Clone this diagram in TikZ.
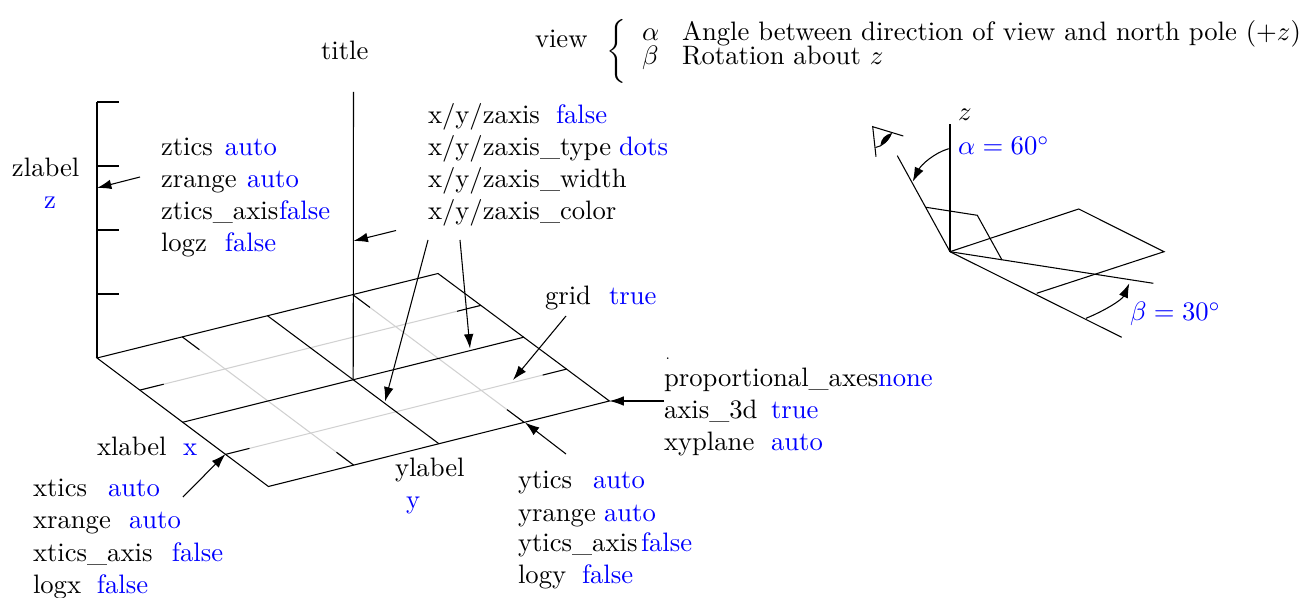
\documentclass[tikz,border=0pt]{standalone}
\usetikzlibrary{arrows.meta,calc}
\newlength{\pxu}\setlength{\pxu}{0.375pt}
\newcommand{\kv}[3]{\makebox[#1\pxu][l]{#2}\textcolor{blue}{#3}}
\tikzset{
  lbl/.style={anchor=base west,inner sep=0pt,outer sep=0pt},
  ax/.style={black,line width=0.4pt},
  gridlight/.style={black!18,line width=0.4pt},
  pointer/.style={black,line width=0.4pt,-{Latex[length=5.4pt,width=3.6pt]}},
  smallpointer/.style={black,line width=0.4pt,-{Latex[length=5.4pt,width=3.6pt]}},
}
\begin{document}
\begin{tikzpicture}[x=0.375pt,y=-0.375pt]
\useasboundingbox (0,0) rectangle (1311,598);
% floor corners
\coordinate (A) at (97,358);
\coordinate (B) at (438,273.5);
\coordinate (C) at (609.4,401);
\coordinate (D) at (268.4,486.5);
% light grid lines with black ticks
\foreach \f in {0.25,0.75}{
  \draw[gridlight] ($(A)!\f!(B)$) -- ($(D)!\f!(C)$);
  \draw[ax] ($(A)!\f!(B)$) -- ($($(A)!\f!(B)$)!0.1!($(D)!\f!(C)$)$);
  \draw[ax] ($(D)!\f!(C)$) -- ($($(D)!\f!(C)$)!0.1!($(A)!\f!(B)$)$);
  \draw[gridlight] ($(A)!\f!(D)$) -- ($(B)!\f!(C)$);
  \draw[ax] ($(A)!\f!(D)$) -- ($($(A)!\f!(D)$)!0.07!($(B)!\f!(C)$)$);
  \draw[ax] ($(B)!\f!(C)$) -- ($($(B)!\f!(C)$)!0.07!($(A)!\f!(D)$)$);
}
% black mid lines and border
\draw[ax] ($(A)!0.5!(B)$) -- ($(D)!0.5!(C)$);
\draw[ax] ($(A)!0.5!(D)$) -- ($(B)!0.5!(C)$);
\draw[ax] (A) -- (B) -- (C) -- (D) -- cycle;
% z axis
\coordinate (Ztop) at (97,102);
\draw[ax] (A) -- (Ztop);
\foreach \yy in {102,166,230,294}{
  \draw[ax] (97,\yy) -- (119,\yy);
}
% centre axis
\coordinate (Cbase) at ($(A)!0.5!(C)$);
\coordinate (Ctop) at (353.5,92);
\draw[ax] (Cbase) -- (Ctop);
% pointers
\coordinate (p1s) at (140,177);  \coordinate (p1e) at (97,188);
\coordinate (p2s) at (396,230.5);\coordinate (p2e) at (353.5,241);
\coordinate (p3s) at (428,240);  \coordinate (p3e) at (385,401.5);
\coordinate (p4s) at (460,240);  \coordinate (p4e) at (470,348.5);
\coordinate (p5s) at (566,316);  \coordinate (p5e) at (513,380);
\coordinate (p6s) at (566,454);  \coordinate (p6e) at (525,422.5);
\coordinate (p7s) at (664,401);  \coordinate (p7e) at (C);
\coordinate (p8s) at (183,497);  \coordinate (p8e) at (225.5,454);
\foreach \i in {1,...,8}{\draw[pointer] (p\i s) -- (p\i e);}
% texts
\node[lbl] (title) at (321,60) {title};
\node[lbl] (view) at (535,48) {view};
\node[anchor=center,inner sep=0pt] (brace) at (618,51) {$\left\{\vphantom{\rule{0pt}{8.6pt}\rule[-8.6pt]{0pt}{8.6pt}}\right.$};
\node[lbl] (alph) at (642,41) {$\alpha$};
\node[lbl] (alphtxt) at (682,41) {Angle between direction of view and north pole $(+z)$};
\node[lbl] (beta) at (642,65) {$\beta$};
\node[lbl] (betatxt) at (682,65) {Rotation about $z$};
\node[lbl] (zlabel) at (12,177) {zlabel};
\node[lbl] (zval) at (44,209) {\textcolor{blue}{z}};
\node[lbl] (zt1) at (161,156) {\kv{64}{ztics}{auto}};
\node[lbl] (zt2) at (161,188) {\kv{86}{zrange}{auto}};
\node[lbl] (zt3) at (161,220) {\kv{118}{ztics\_axis}{false}};
\node[lbl] (zt4) at (161,252) {\kv{64}{logz}{false}};
\node[lbl] (ax1) at (428,124) {\kv{128}{x/y/zaxis}{false}};
\node[lbl] (ax2) at (428,156) {\kv{191}{x/y/zaxis\_type}{dots}};
\node[lbl] (ax3) at (428,188) {x/y/zaxis\_width};
\node[lbl] (ax4) at (428,220) {x/y/zaxis\_color};
\node[lbl] (grid) at (545,305) {\kv{64}{grid}{true}};
\node[lbl] (dot) at (665,360) {\tiny .};
\node[lbl] (pr1) at (664,387) {\kv{214}{proportional\_axes}{none}};
\node[lbl] (pr2) at (664,419) {\kv{107}{axis\_3d}{true}};
\node[lbl] (pr3) at (664,451) {\kv{107}{xyplane}{auto}};
\node[lbl] (xlabel) at (97,456) {\kv{86}{xlabel}{x}};
\node[lbl] (xt1) at (33,497) {\kv{75}{xtics}{auto}};
\node[lbl] (xt2) at (33,529) {\kv{96}{xrange}{auto}};
\node[lbl] (xt3) at (33,561) {\kv{139}{xtics\_axis}{false}};
\node[lbl] (xt4) at (33,593) {\kv{64}{logx}{false}};
\node[lbl] (ylabel) at (395,477) {ylabel};
\node[lbl] (yval) at (406,509) {\textcolor{blue}{y}};
\node[lbl] (yt1) at (518,489) {\kv{75}{ytics}{auto}};
\node[lbl] (yt2) at (518,521) {\kv{86}{yrange}{auto}};
\node[lbl] (yt3) at (518,551) {\kv{123}{ytics\_axis}{false}};
\node[lbl] (yt4) at (518,583) {\kv{64}{logy}{false}};
% view diagram
\coordinate (O) at (950,251.7);
\coordinate (Vz) at (950,124);
\coordinate (Vv) at (897.3,155.7);
\coordinate (Vb) at (1121.7,337.3);
\coordinate (Va) at (1153.3,283.3);
\coordinate (P1) at (1078.7,209);
\coordinate (P2) at (1164,251.7);
\coordinate (P3) at (1036.7,293.3);
\coordinate (S1) at (926,207.3);
\coordinate (S2) at (977.3,215.3);
\coordinate (S3) at (1002,260);
\draw[ax] (O) -- (Vz);
\draw[ax] (O) -- (Vv);
\draw[ax] (O) -- (Vb);
\draw[ax] (O) -- (Va);
\draw[ax] (O) -- (P1) -- (P2) -- (P3);
\draw[ax] (S1) -- (S2) -- (S3);
% eye
\coordinate (E0) at (872.7,126.7);
\coordinate (E1) at (903.3,136);
\coordinate (E2) at (876,156.7);
\draw[ax] (E1) -- (E0) -- (E2);
\draw[ax] (875.5,147.5) .. controls (882,146.5) and (888,141) .. (891.5,133.3);
\fill[black] (880.5,145) .. controls (881,139) and (885,134.5) .. (891.5,133.3)
  .. controls (890,139) and (886,143.5) .. (880.5,145) -- cycle;
% angle arcs
\coordinate (Aa1) at (948.7,148.7);
\coordinate (Aa2) at (912.7,181.7);
\coordinate (Ab1) at (1086,318.3);
\coordinate (Ab2) at (1129.3,283.3);
\draw[pointer] (Aa1) .. controls (934,153) and (921,165) .. (Aa2);
\draw[pointer] (Ab1) .. controls (1104,311) and (1122,300) .. (Ab2);
\node[lbl] (vz) at (958,121) {$z$};
\node[lbl] (va) at (958,155) {\textcolor{blue}{$\alpha=60^\circ$}};
\node[lbl] (vb) at (1130,321) {\textcolor{blue}{$\beta=30^\circ$}};
\end{tikzpicture}
\end{document}
